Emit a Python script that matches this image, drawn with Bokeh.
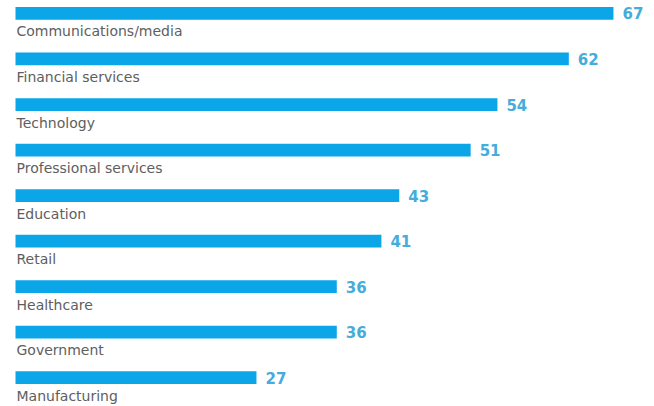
from bokeh.plotting import figure
from bokeh.models import ColumnDataSource, Range1d
from bokeh.core.properties import value
from bokeh.embed import file_html
from bokeh.resources import INLINE

categories = ["Communications/media", "Financial services", "Technology",
              "Professional services", "Education", "Retail", "Healthcare",
              "Government", "Manufacturing"]
values = [67, 62, 54, 51, 43, 41, 36, 36, 27]

pos = list(range(len(categories)))
src = ColumnDataSource(dict(
    y=pos, v=values, cat=categories, lab=[str(v) for v in values]))

W, H = 654, 406
p = figure(width=W, height=H, output_backend="svg", toolbar_location=None,
           min_border=0, x_range=Range1d(-1.68, 71.6),
           y_range=Range1d(8.634, -0.285))
p.axis.visible = False
p.grid.visible = False
p.outline_line_color = None
p.background_fill_color = "white"
p.border_fill_color = "white"

BLUE = "#0aa6e8"
p.hbar(y="y", left=0, right="v", height=0.28, source=src,
       fill_color=BLUE, line_color=None)

p.text(x=0, y="y", text="cat", source=src, x_offset=1, y_offset=18,
       text_baseline="alphabetic", text_align="left",
       text_font=value("DejaVu Sans"), text_font_size="14px",
       text_color="#5e5e5e")

p.text(x="v", y="y", text="lab", source=src, x_offset=9, y_offset=0,
       text_baseline="middle", text_align="left",
       text_font=value("DejaVu Sans"), text_font_size="15px",
       text_font_style="bold", text_color="#45acdc")

open("out.html", "w").write(file_html(p, INLINE))
